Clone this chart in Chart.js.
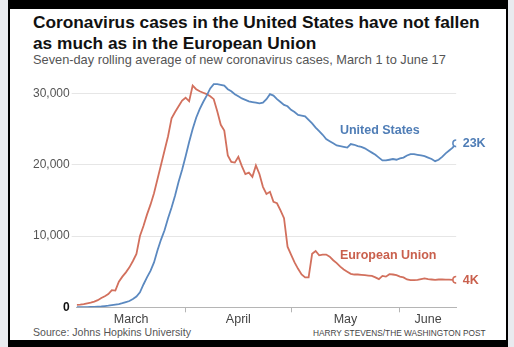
<!DOCTYPE html>
<html>
<head>
<meta charset="utf-8">
<script src="https://cdn.jsdelivr.net/npm/chart.js@4.4.1/dist/chart.umd.min.js"></script>
<style>
    html, body { margin: 0; padding: 0; }
    body { width: 514px; height: 347px; background: #e9ebef; position: relative; overflow: hidden;
           font-family: "Liberation Sans", Arial, sans-serif; }
    #frame { position: absolute; left: 8px; top: 0; width: 500px; height: 347px; background: #000; }
    #card { position: absolute; left: 10px; top: 9px; width: 496px; height: 331px; background: #fff; }
    .txt { position: absolute; white-space: nowrap; }
    #title { left: 33px; top: 11.5px; font-weight: bold; font-size: 17.3px; line-height: 21.7px; color: #111; }
    #subtitle { left: 33px; top: 54.4px; font-size: 12.5px; line-height: 1; color: #555; }
    #source { left: 33px; top: 327px; font-size: 10.5px; line-height: 1; color: #555; }
    #credit { left: 313px; top: 329px; font-size: 8.5px; line-height: 1; color: #444; }
    #chartBox { position: absolute; left: 10px; top: 70px; width: 496px; height: 256px; }
</style>
</head>
<body>
<div id="frame"></div>
<div id="card"></div>
<div class="txt" id="title">Coronavirus cases in the United States have not fallen<br>as much as in the European Union</div>
<div class="txt" id="subtitle" data-w="413">Seven-day rolling average of new coronavirus cases, March 1 to June 17</div>
<div class="txt" id="source" data-w="158">Source: Johns Hopkins University</div>
<div class="txt" id="credit" data-w="173">HARRY STEVENS/THE WASHINGTON POST</div>
<div id="chartBox"><canvas id="casesChart" width="496" height="256"></canvas></div>

<script>
// days since March 1 (0 = Mar 1, 108 = June 17)
const monthStarts = [0, 31, 61, 92];
const monthNames = ['March', 'April', 'May', 'June'];
const monthMids = [15.5, 46, 76.5, 100];
const yTicks = [0, 10000, 20000, 30000];

// seven-day average of new cases, one value per day
const usCases = [
    10, 15, 20, 30, 40,
    55, 80, 110, 160, 220,
    300, 380, 460, 580, 730,
    880, 1150, 1500, 2100, 3200,
    4200, 5100, 6300, 8000, 9500,
    10800, 12500, 14000, 15700, 17600,
    19300, 21200, 23200, 25000, 26600,
    27800, 28800, 29700, 30700, 31300,
    31300, 31200, 31100, 30600, 30300,
    29900, 29600, 29300, 29100, 28900,
    28800, 28700, 28600, 28700, 29200,
    29900, 29700, 29200, 28800, 28400,
    28200, 27700, 27400, 27000, 26900,
    26800, 26300, 25800, 25200, 24700,
    24200, 23600, 23300, 23000, 22700,
    22600, 22500, 22400, 22900, 22800,
    22600, 22500, 22300, 22000, 21700,
    21400, 21000, 20600, 20600, 20700,
    20800, 20700, 20900, 21000, 21300,
    21500, 21500, 21400, 21300, 21200,
    21000, 20800, 20500, 20700, 21100,
    21600, 22000, 22400, 23000
];

const euCases = [
    330, 380, 450, 550, 650,
    800, 1000, 1300, 1550, 1850,
    2400, 2350, 3600, 4300, 4900,
    5600, 6500, 7500, 10000, 11400,
    13000, 14400, 16000, 18000, 20000,
    22000, 24000, 26500, 27400, 28200,
    29000, 29400, 28900, 31100, 30600,
    30300, 30100, 29900, 29600, 29200,
    27500, 25600, 24800, 21300, 20400,
    20300, 21100, 19800, 18700, 18900,
    18300, 19900, 18700, 16900, 15900,
    16200, 14800, 14600, 13600, 12500,
    8500, 7400, 6300, 5400, 4600,
    4200, 4200, 7500, 7900, 7300,
    7400, 7400, 7100, 6600, 6200,
    5700, 5300, 5000, 4700, 4600,
    4600, 4550, 4500, 4450, 4400,
    4200, 3950, 4400, 4300, 4650,
    4600, 4500, 4300, 4200, 3900,
    3800, 3800, 3850, 3950, 4050,
    3950, 3900, 3850, 3900, 3900,
    3880, 3870, 3860, 3860
];

const US_COLOR = '#5b89c0';
const EU_COLOR = '#d2705d';

// shrink/grow small texts to the width they have in the original
function fitTexts() {
    const ctx = document.createElement('canvas').getContext('2d');
    document.querySelectorAll('[data-w]').forEach(el => {
        const cs = getComputedStyle(el);
        ctx.font = `${cs.fontWeight} ${cs.fontSize} ${cs.fontFamily}`;
        const w = ctx.measureText(el.textContent).width;
        const size = parseFloat(cs.fontSize) * (+el.dataset.w) / w;
        el.style.fontSize = size.toFixed(2) + 'px';
    });
}

const seriesLabels = {
    id: 'seriesLabels',
    afterDatasetsDraw(chart, args, opts) {
        const { ctx, scales: { x, y } } = chart;
        ctx.save();
        ctx.font = 'bold 12.5px "Liberation Sans", Arial, sans-serif';
        ctx.textBaseline = 'middle';
        ctx.textAlign = 'left';
        chart.data.datasets.forEach((ds, i) => {
            const meta = chart.getDatasetMeta(i);
            const last = meta.data[meta.data.length - 1];
            ctx.fillStyle = opts.textColors[i];
            // series name
            const pos = opts.namePos[i];
            ctx.fillText(ds.label, x.getPixelForValue(pos[0]), y.getPixelForValue(pos[1]));
            // end value
            const v = ds.data[ds.data.length - 1].y;
            ctx.fillText(Math.round(v / 1000) + 'K', last.x + 6.5, last.y + 0.5);
        });
        ctx.restore();
    }
};

function buildChart() {
    const ctx = document.getElementById('casesChart').getContext('2d');
    const lastIdx = usCases.length - 1;
    const toPoints = arr => arr.map((v, i) => ({ x: i, y: v }));
    const lineSet = (label, values, color) => ({
        label,
        data: toPoints(values),
        borderColor: color,
        borderWidth: 1.8,
        tension: 0,
        pointRadius: c => c.dataIndex === lastIdx ? 3.3 : 0,
        pointHoverRadius: 0,
        pointBackgroundColor: '#fff',
        pointBorderColor: color,
        pointBorderWidth: 1.6
    });

    new Chart(ctx, {
        type: 'line',
        data: {
            datasets: [
                lineSet('United States', usCases, US_COLOR),
                lineSet('European Union', euCases, EU_COLOR)
            ]
        },
        options: {
            responsive: false,
            animation: false,
            layout: { padding: { top: 8.5, right: 49.8, left: 0, bottom: 0 } },
            plugins: {
                legend: { display: false },
                tooltip: { enabled: false },
                seriesLabels: {
                    namePos: [[74.9, 24800], [74.9, 7300]],
                    textColors: ['#4f7db6', '#c9604d']
                }
            },
            scales: {
                x: {
                    type: 'linear',
                    min: 0,
                    max: 108,
                    afterBuildTicks: axis => {
                        axis.ticks = monthStarts.concat(monthMids)
                            .sort((a, b) => a - b)
                            .map(v => ({ value: v }));
                    },
                    afterFit: axis => { axis.height = 18.7; },
                    border: { display: true, color: '#b5b5b5', width: 1 },
                    grid: {
                        drawOnChartArea: false,
                        tickLength: 5,
                        tickColor: c => monthStarts.includes(c.tick && c.tick.value) && c.tick.value !== 0 ? '#b5b5b5' : 'transparent'
                    },
                    ticks: {
                        autoSkip: false,
                        maxRotation: 0,
                        padding: 0,
                        color: '#444',
                        font: { family: '"Liberation Sans", Arial, sans-serif', size: 12.5 },
                        callback: v => {
                            const k = monthMids.indexOf(v);
                            return k >= 0 ? monthNames[k] : '';
                        }
                    }
                },
                y: {
                    min: 0,
                    max: 32000,
                    afterBuildTicks: axis => { axis.ticks = yTicks.map(v => ({ value: v })); },
                    afterFit: axis => { axis.width = 66.7; },
                    border: { display: false },
                    grid: {
                        color: c => c.tick && c.tick.value === 0 ? 'transparent' : '#e6e6e6',
                        tickLength: 5,
                        lineWidth: 1
                    },
                    ticks: {
                        padding: 2,
                        color: c => c.tick.value === 0 ? '#111' : '#555',
                        font: c => ({
                            family: '"Liberation Sans", Arial, sans-serif',
                            size: 12,
                            weight: c.tick && c.tick.value === 0 ? 'bold' : 'normal'
                        }),
                        callback: v => v.toLocaleString('en-US')
                    }
                }
            }
        },
        plugins: [seriesLabels]
    });
}

fitTexts();
buildChart();
</script>
</body>
</html>
